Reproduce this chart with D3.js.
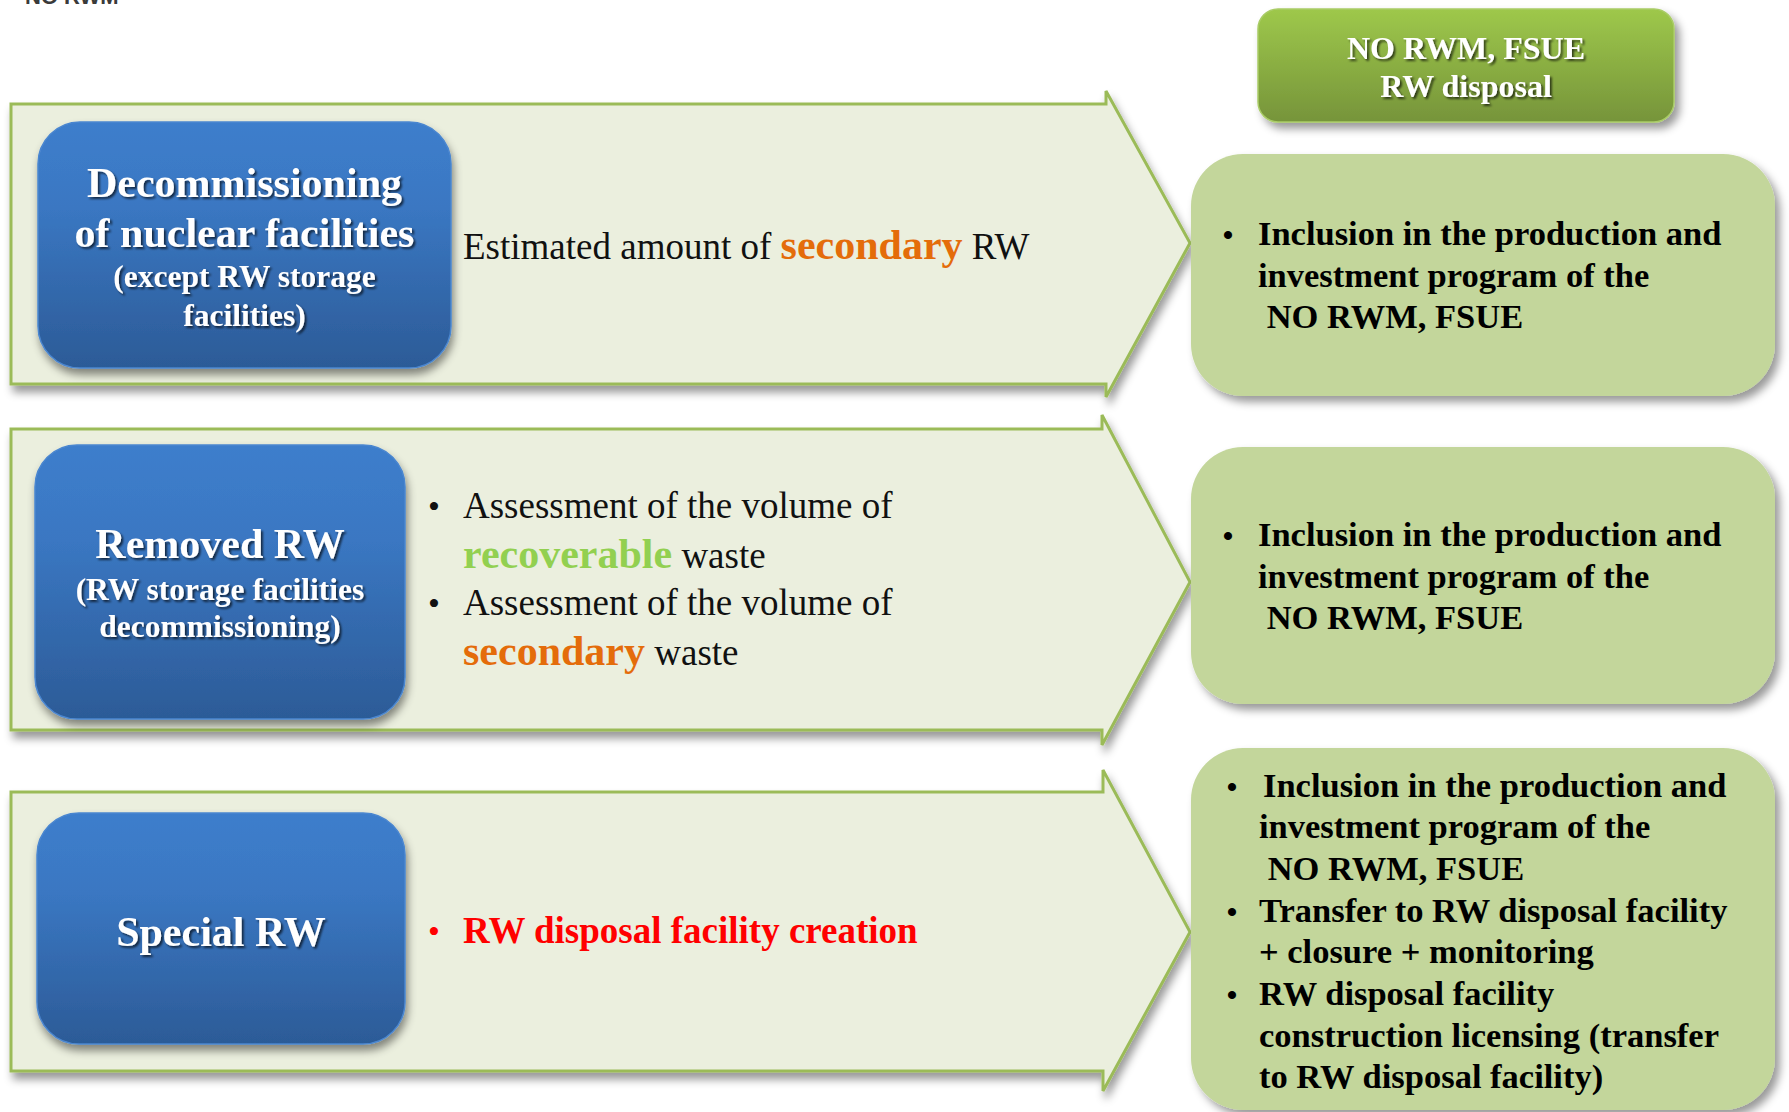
<!DOCTYPE html>
<html>
<head>
<meta charset="utf-8">
<script src="https://cdn.jsdelivr.net/npm/d3@7"></script>
<style>
  html, body { margin: 0; padding: 0; background: #fff; }
  svg { display: block; }
  text { white-space: pre; }
</style>
</head>
<body>
<svg id="chart"></svg>
<script>
// ---- content ----
let cornerLabel = 'NO RWM'
let headerLines = ['NO RWM, FSUE', 'RW disposal']

// blue boxes: title lines and note lines
let categoryTitles = [['Decommissioning', 'of nuclear facilities'], ['Removed RW'], ['Special RW']]
let categoryNotes = [['(except RW storage', 'facilities)'], ['(RW storage facilities', 'decommissioning)'], []]

// middle text, one entry per item; each item is lines of segments [text, kind]
let actionBullets = [false, true, true]
let actions = [
  [[['Estimated amount of ', 'plain'], ['secondary', 'orange'], [' RW', 'plain']]],
  [[['Assessment of the volume of', 'plain']], [['recoverable', 'green'], [' waste', 'plain']],
   [['Assessment of the volume of', 'plain']], [['secondary', 'orange'], [' waste', 'plain']]],
  [[['RW disposal facility creation', 'red']]]
]
// which lines of each action start a bullet
let actionBulletLines = [[], [0, 2], [0]]

// right boxes: items, each is a list of lines
let outcomes = [
  [['Inclusion in the production and', 'investment program of the', ' NO RWM, FSUE']],
  [['Inclusion in the production and', 'investment program of the', ' NO RWM, FSUE']],
  [['Inclusion in the production and', 'investment program of the', ' NO RWM, FSUE'],
   ['Transfer to RW disposal facility', '+ closure + monitoring'],
   ['RW disposal facility', 'construction licensing (transfer', 'to RW disposal facility)']]
]

// ---- layout ----
let w = 1789
let h = 1112
let serif = '"Liberation Serif", "Times New Roman", serif'

let arrowRows = [
  { top: 104, bottom: 384, body: 1106, notchTop: 91, notchBot: 397, tipY: 243 },
  { top: 429, bottom: 730, body: 1102, notchTop: 415, notchBot: 745, tipY: 582 },
  { top: 792, bottom: 1071, body: 1103, notchTop: 770, notchBot: 1091, tipY: 932 }
]
let arrowLeft = 11
let tipX = 1190

let blueBoxes = [
  { x: 38, y: 122, w: 413, h: 246, titleY: [197, 247], noteY: [287, 326] },
  { x: 35, y: 445, w: 370, h: 274, titleY: [558], noteY: [600, 637] },
  { x: 37, y: 813, w: 368, h: 231, titleY: [946], noteY: [] }
]

let actionY = [[259], [518, 568, 615, 665], [943]]
let actionX = 463
let bulletX = 434

let greenBoxes = [
  { x: 1191, y: 154, w: 584, h: 242, lines: [245, 287, 328], bx: 1228, tx: 1258 },
  { x: 1191, y: 447, w: 584, h: 257, lines: [546, 588, 629], bx: 1228, tx: 1258 },
  { x: 1191, y: 748, w: 584, h: 362, lines: [797, 838, 880, 922, 963, 1005, 1047, 1088], bx: 1232, tx: 1259 }
]

let kindStyle = {
  plain: { fill: '#111', weight: 'normal', size: 37 },
  orange: { fill: '#E46C0A', weight: 'bold', size: 42 },
  green: { fill: '#92D050', weight: 'bold', size: 42 },
  red: { fill: '#FF0000', weight: 'bold', size: 37 }
}

let svg = d3.select('#chart')

let drawCanvas = () => {
  svg.attr('width', w).attr('height', h)
  let defs = svg.append('defs')

  let blue = defs.append('linearGradient').attr('id', 'blueGrad')
    .attr('x1', 0).attr('y1', 0).attr('x2', 0).attr('y2', 1)
  blue.append('stop').attr('offset', '0%').attr('stop-color', '#3D7ECC')
  blue.append('stop').attr('offset', '35%').attr('stop-color', '#3A77C2')
  blue.append('stop').attr('offset', '100%').attr('stop-color', '#2C5B97')

  let head = defs.append('linearGradient').attr('id', 'headGrad')
    .attr('x1', 0).attr('y1', 0).attr('x2', 0).attr('y2', 1)
  head.append('stop').attr('offset', '0%').attr('stop-color', '#9EC84B')
  head.append('stop').attr('offset', '100%').attr('stop-color', '#76943A')

  let addShadow = (id, dx, dy, sd, op) => {
    defs.append('filter').attr('id', id)
      .attr('x', '-10%').attr('y', '-10%').attr('width', '130%').attr('height', '140%')
      .append('feDropShadow')
      .attr('dx', dx).attr('dy', dy).attr('stdDeviation', sd)
      .attr('flood-color', '#000').attr('flood-opacity', op)
  }
  addShadow('arrowShadow', 3, 7, 4, 0.4)
  addShadow('boxShadow', 2, 6, 4, 0.45)
  addShadow('greenShadow', 5, 6, 4, 0.4)
  addShadow('textShadow', 2, 2, 1, 0.65)
}

let drawCorner = () => {
  svg.append('text')
    .attr('x', 25).attr('y', 4)
    .attr('font-family', '"Liberation Sans", Arial, sans-serif')
    .attr('font-weight', 'bold').attr('font-size', 22)
    .attr('fill', '#3a3a3a')
    .text(cornerLabel)
}

let drawArrows = () => {
  let arrowPath = (r) => {
    let p = d3.path()
    p.moveTo(arrowLeft, r.top)
    p.lineTo(r.body, r.top)
    p.lineTo(r.body, r.notchTop)
    p.lineTo(tipX, r.tipY)
    p.lineTo(r.body, r.notchBot)
    p.lineTo(r.body, r.bottom)
    p.lineTo(arrowLeft, r.bottom)
    p.closePath()
    return p.toString()
  }
  svg.selectAll('path.arrow')
    .data(arrowRows)
    .enter()
    .append('path')
    .attr('class', 'arrow')
    .attr('d', arrowPath)
    .attr('fill', '#EBEFDE')
    .attr('stroke', '#9BBB59')
    .attr('stroke-width', 3)
    .attr('filter', 'url(#arrowShadow)')
}

let drawBlueBoxes = () => {
  let g = svg.selectAll('g.cat')
    .data(blueBoxes)
    .enter()
    .append('g')
    .attr('class', 'cat')

  g.append('rect')
    .attr('x', (d) => d.x).attr('y', (d) => d.y)
    .attr('width', (d) => d.w).attr('height', (d) => d.h)
    .attr('rx', 42).attr('ry', 42)
    .attr('fill', 'url(#blueGrad)')
    .attr('stroke', '#4A86D0').attr('stroke-width', 1.5)
    .attr('filter', 'url(#boxShadow)')

  g.each(function (d, i) {
    let sel = d3.select(this)
    let cx = d.x + d.w / 2
    categoryTitles[i].forEach((line, j) => {
      sel.append('text')
        .attr('x', cx).attr('y', d.titleY[j])
        .attr('text-anchor', 'middle')
        .attr('font-family', serif).attr('font-weight', 'bold').attr('font-size', 42)
        .attr('fill', '#fff').attr('filter', 'url(#textShadow)')
        .text(line)
    })
    categoryNotes[i].forEach((line, j) => {
      sel.append('text')
        .attr('x', cx).attr('y', d.noteY[j])
        .attr('text-anchor', 'middle')
        .attr('font-family', serif).attr('font-weight', 'bold').attr('font-size', 31.5)
        .attr('fill', '#fff').attr('filter', 'url(#textShadow)')
        .text(line)
    })
  })
}

let drawActions = () => {
  actions.forEach((lines, i) => {
    lines.forEach((segs, j) => {
      let y = actionY[i][j]
      if (actionBullets[i] && actionBulletLines[i].includes(j)) {
        svg.append('text')
          .attr('x', bulletX).attr('y', y)
          .attr('text-anchor', 'middle')
          .attr('font-family', serif).attr('font-size', 34)
          .attr('fill', segs[0][1] === 'red' ? '#FF0000' : '#111')
          .text('\u2022')
      }
      let t = svg.append('text')
        .attr('x', actionX).attr('y', y)
        .attr('font-family', serif)
      t.selectAll('tspan')
        .data(segs)
        .enter()
        .append('tspan')
        .attr('fill', (s) => kindStyle[s[1]].fill)
        .attr('font-weight', (s) => kindStyle[s[1]].weight)
        .attr('font-size', (s) => kindStyle[s[1]].size)
        .text((s) => s[0])
    })
  })
}

let drawHeader = () => {
  svg.append('rect')
    .attr('x', 1258).attr('y', 9)
    .attr('width', 416).attr('height', 113)
    .attr('rx', 20).attr('ry', 20)
    .attr('fill', 'url(#headGrad)')
    .attr('stroke', '#A9CC66').attr('stroke-width', 1.5)
    .attr('filter', 'url(#greenShadow)')
  svg.selectAll('text.head')
    .data(headerLines)
    .enter()
    .append('text')
    .attr('class', 'head')
    .attr('x', 1466)
    .attr('y', (d, i) => 59 + i * 38)
    .attr('text-anchor', 'middle')
    .attr('font-family', serif).attr('font-weight', 'bold').attr('font-size', 32)
    .attr('fill', '#fff').attr('filter', 'url(#textShadow)')
    .text((d) => d)
}

let drawOutcomes = () => {
  let g = svg.selectAll('g.out')
    .data(greenBoxes)
    .enter()
    .append('g')
    .attr('class', 'out')

  g.append('rect')
    .attr('x', (d) => d.x).attr('y', (d) => d.y)
    .attr('width', (d) => d.w).attr('height', (d) => d.h)
    .attr('rx', 52).attr('ry', 52)
    .attr('fill', '#C3D69B')
    .attr('filter', 'url(#greenShadow)')

  g.each(function (d, i) {
    let sel = d3.select(this)
    let k = 0
    outcomes[i].forEach((item) => {
      item.forEach((line, j) => {
        let y = d.lines[k]
        if (j === 0) {
          sel.append('text')
            .attr('x', d.bx).attr('y', y)
            .attr('text-anchor', 'middle')
            .attr('font-family', serif).attr('font-weight', 'bold').attr('font-size', 30)
            .attr('fill', '#000')
            .text('\u2022')
        }
        sel.append('text')
          .attr('x', (i === 2 && k === 0) ? d.tx + 4 : d.tx).attr('y', y)
          .attr('font-family', serif).attr('font-weight', 'bold').attr('font-size', 34.5)
          .attr('fill', '#000')
          .text(line)
        k++
      })
    })
  })
}

drawCanvas()
drawCorner()
drawArrows()
drawBlueBoxes()
drawActions()
drawHeader()
drawOutcomes()
</script>
</body>
</html>
